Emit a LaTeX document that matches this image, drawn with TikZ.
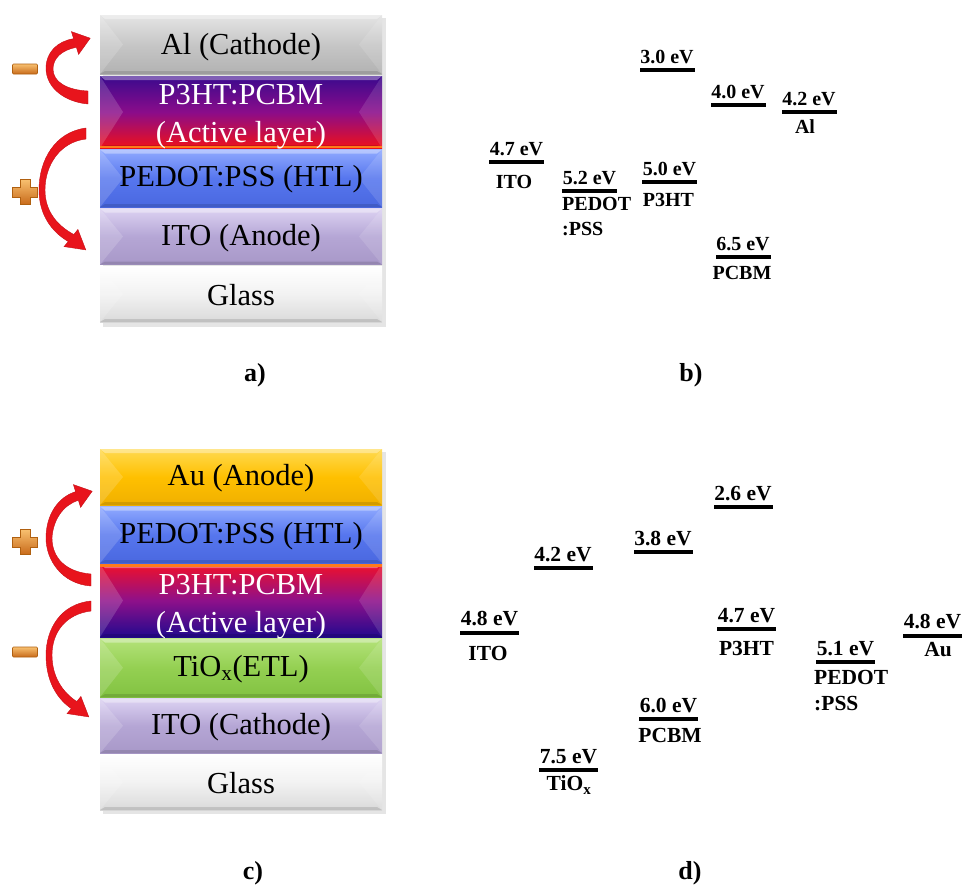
\documentclass[tikz,border=0pt]{standalone}
\usepackage{fontspec}
\setmainfont{Liberation Serif}
\definecolor{alT}{HTML}{E4E4E4}\definecolor{alM}{HTML}{C6C6C6}\definecolor{alB}{HTML}{B2B2B2}
\definecolor{paT}{HTML}{3A0A8E}\definecolor{paM}{HTML}{8A0C8A}\definecolor{paB}{HTML}{F0101A}
\definecolor{pcT}{HTML}{F0102A}\definecolor{pcM}{HTML}{8E108A}\definecolor{pcB}{HTML}{220A8E}
\definecolor{peT}{HTML}{90AAFF}\definecolor{peM}{HTML}{5676EE}\definecolor{peB}{HTML}{4A68E0}
\definecolor{itT}{HTML}{DCD2F2}\definecolor{itM}{HTML}{B5A6D5}\definecolor{itB}{HTML}{A898C8}
\definecolor{glT}{HTML}{FFFFFF}\definecolor{glM}{HTML}{F2F2F2}\definecolor{glB}{HTML}{DADADA}
\definecolor{auT}{HTML}{FFDA50}\definecolor{auM}{HTML}{FFC000}\definecolor{auB}{HTML}{F0B000}
\definecolor{tiT}{HTML}{B4E27A}\definecolor{tiM}{HTML}{94D052}\definecolor{tiB}{HTML}{82C242}
\definecolor{orangeL}{HTML}{FF7A1A}
\definecolor{arrowred}{HTML}{E8141C}
\definecolor{signtop}{HTML}{F8C070}\definecolor{signbot}{HTML}{C86A1A}\definecolor{signedge}{HTML}{B06010}
\newcommand{\lyr}[5]{%
  \shade[top color=#3, bottom color=#5, middle color=#4] (100,#1) rectangle (382,#2);
  \fill[white,opacity=.16] (100,#1) -- (123,{(#1+#2)/2}) -- (100,#2) -- cycle;
  \fill[white,opacity=.12] (382,#1) -- (359,{(#1+#2)/2}) -- (382,#2) -- cycle;
  \fill[white,opacity=.35] (100,#1) -- (382,#1) -- (377,{#1+4}) -- (105,{#1+4}) -- cycle;
  \fill[black,opacity=.12] (100,#2) -- (382,#2) -- (377,{#2-3}) -- (105,{#2-3}) -- cycle;
}
\newcommand{\plussgn}[2]{%
  \begin{scope}[shift={(#1,#2)}]
  \shade[sgn] (-4.8,-12.5) -- (4.8,-12.5) -- (4.8,-4.8) -- (12.5,-4.8) -- (12.5,4.8) -- (4.8,4.8) -- (4.8,12.5) -- (-4.8,12.5) -- (-4.8,4.8) -- (-12.5,4.8) -- (-12.5,-4.8) -- (-4.8,-4.8) -- cycle;
  \end{scope}}
\newcommand{\minussgn}[2]{%
  \begin{scope}[shift={(#1,#2)}]
  \shade[sgn, rounded corners=1pt] (-12.5,-5) rectangle (12.5,5);
  \end{scope}}
\begin{document}
\begin{tikzpicture}[x=1pt,y=-1pt,
  lt/.style={font=\fontsize{30.5}{38}\selectfont, inner sep=0, align=center},
  ev/.style={font=\bfseries\fontsize{20}{24}\selectfont, inner sep=0, anchor=base},
  evd/.style={font=\bfseries\fontsize{21.5}{26}\selectfont, inner sep=0, anchor=base},
  nm/.style={font=\bfseries\fontsize{20}{25}\selectfont, inner sep=0, align=left},
  nmd/.style={font=\bfseries\fontsize{21.5}{26}\selectfont, inner sep=0, align=left},
  barb/.style={fill=black, inner sep=0, minimum width=55pt, minimum height=3.4pt},
  bard/.style={fill=black, inner sep=0, minimum width=59pt, minimum height=4pt},
  pl/.style={font=\bfseries\fontsize{26}{30}\selectfont, inner sep=0},
  ared/.style={fill=arrowred, draw=arrowred!85!black, line width=0.4pt},
  sgn/.style={top color=signtop, bottom color=signbot, draw=signedge, line width=0.6pt}
]
\useasboundingbox (0,0) rectangle (965,887);
% ---------- stack a ----------
\fill[black,opacity=.10] (103,18) rectangle (386,327);
\lyr{15}{74}{alT}{alM}{alB}
\lyr{76}{148}{paT}{paM}{paB}
\fill[orangeL] (100,145.5) rectangle (382,148);
\lyr{149.5}{207}{peT}{peM}{peB}
\lyr{208.5}{264.5}{itT}{itM}{itB}
\lyr{266}{322}{glT}{glM}{glB}
\node[lt] (al) at (241,47) {Al (Cathode)};
\node[lt, text=white] (pa) at (241,117) {P3HT:PCBM\\(Active layer)};
\node[lt] (pe) at (241,179) {PEDOT:PSS (HTL)};
\node[lt] (ito) at (241,238) {ITO (Anode)};
\node[lt] (gl) at (241,295) {Glass};
% arrows a
\fill[ared] (88,104) .. controls (65,102) and (46,88) .. (46,68) .. controls (46,52) and (58,41) .. (73.6,38.7) -- (71.4,31.6) -- (90.2,38.2) -- (78.6,54.4) -- (76.4,47.3) .. controls (62,50) and (53,58) .. (53,69) .. controls (53,82) and (67,90) .. (88,91) -- cycle;
\fill[ared] (86,128) .. controls (55,132) and (39,160) .. (39,190) .. controls (39,215) and (52,232) .. (68.2,241.5) -- (64.1,246.6) -- (85.8,249.9) -- (77.9,229.4) -- (73.8,234.5) .. controls (58,226) and (45,212) .. (45,190) .. controls (45,165) and (60,142) .. (86,139) -- cycle;
\minussgn{25}{69}
\plussgn{25}{192}
% ---------- stack c ----------
\fill[black,opacity=.10] (103,452) rectangle (386,814);
\lyr{449}{505}{auT}{auM}{auB}
\lyr{506.5}{563}{peT}{peM}{peB}
\lyr{564}{637}{pcT}{pcM}{pcB}
\fill[orangeL] (100,564) rectangle (382,566.5);
\lyr{638.5}{697}{tiT}{tiM}{tiB}
\lyr{698.5}{753}{itT}{itM}{itB}
\lyr{754.5}{810}{glT}{glM}{glB}
\node[lt] (au) at (241,478) {Au (Anode)};
\node[lt] (pe2) at (241,536) {PEDOT:PSS (HTL)};
\node[lt, text=white] (pc2) at (241,607) {P3HT:PCBM\\(Active layer)};
\node[lt] (ti) at (241,669) {TiO\textsubscript{x}(ETL)};
\node[lt] (ito2) at (241,727) {ITO (Cathode)};
\node[lt] (gl2) at (241,783) {Glass};
% arrows c
\fill[ared] (91,586) .. controls (62,584) and (46,560) .. (46,538) .. controls (46,515) and (58,497) .. (75.6,491.7) -- (73.4,484.6) -- (92.2,491.2) -- (80.6,507.4) -- (78.4,500.3) .. controls (63,505) and (53,520) .. (52,538) .. controls (52,558) and (66,572) .. (91,574) -- cycle;
\fill[ared] (91,601) .. controls (60,604) and (46,630) .. (46,655) .. controls (46,680) and (56,698) .. (71.2,708.5) -- (67.1,713.6) -- (88.8,716.9) -- (80.9,696.4) -- (76.8,701.5) .. controls (62,692) and (52,676) .. (52,655) .. controls (52,632) and (66,614) .. (91,611) -- cycle;
\plussgn{25}{542}
\minussgn{25}{652}
% ---------- panel labels ----------
\node[pl] (la) at (255,375) {a)};
\node[pl] (lb) at (691,375) {b)};
\node[pl] (lc) at (253,873) {c)};
\node[pl] (ld) at (690,873) {d)};
% ---------- energy levels b ----------
\node[barb] (b30) at (667,70) {};   \node[ev] (t30) at (667,63.5) {3.0 eV};
\node[barb] (b40) at (738,105) {};  \node[ev] (t40) at (738,98.5) {4.0 eV};
\node[barb] (b42) at (809,112) {};  \node[ev] (t42) at (809,105.5) {4.2 eV};
\node[nm] (nal) at (805,127) {Al};
\node[barb] (b47) at (516.5,162) {}; \node[ev] (t47) at (516.5,155.5) {4.7 eV};
\node[nm] (nito) at (514,182) {ITO};
\node[barb] (b52) at (589.5,191) {}; \node[ev] (t52) at (589.5,184.5) {5.2 eV};
\node[nm, anchor=north west] (npe) at (562,197) {PEDOT\\:PSS};
\node[barb] (b50) at (669.5,182) {}; \node[ev] (t50) at (669.5,175.5) {5.0 eV};
\node[nm] (np3) at (668.5,200) {P3HT};
\node[barb] (b65) at (743,257) {};  \node[ev] (t65) at (743,250.5) {6.5 eV};
\node[nm] (npc) at (742,273) {PCBM};
% ---------- energy levels d ----------
\node[bard] (d26) at (743,507) {};  \node[evd] (u26) at (743,500) {2.6 eV};
\node[bard] (d38) at (663,552) {};  \node[evd] (u38) at (663,545) {3.8 eV};
\node[bard] (d42) at (563,568) {};  \node[evd] (u42) at (563,561) {4.2 eV};
\node[bard] (d48i) at (489.5,633) {}; \node[evd] (u48i) at (489.5,625) {4.8 eV};
\node[nmd] (mito) at (488,653) {ITO};
\node[bard] (d47) at (746.5,629) {}; \node[evd] (u47) at (746.5,622) {4.7 eV};
\node[nmd] (mp3) at (746.5,648) {P3HT};
\node[bard] (d51) at (845.5,662) {}; \node[evd] (u51) at (845.5,655) {5.1 eV};
\node[nmd, anchor=north west] (mpe) at (814,670) {PEDOT\\:PSS};
\node[bard] (d48a) at (932.5,636) {}; \node[evd] (u48a) at (932.5,628) {4.8 eV};
\node[nmd] (mau) at (938,650) {Au};
\node[bard] (d60) at (668.5,719) {}; \node[evd] (u60) at (668.5,712) {6.0 eV};
\node[nmd] (mpc) at (670,735) {PCBM};
\node[bard] (d75) at (568.5,770) {}; \node[evd] (u75) at (568.5,763) {7.5 eV};
\node[nmd] (mti) at (569,785) {TiO\textsubscript{x}};
\end{tikzpicture}
\end{document}
